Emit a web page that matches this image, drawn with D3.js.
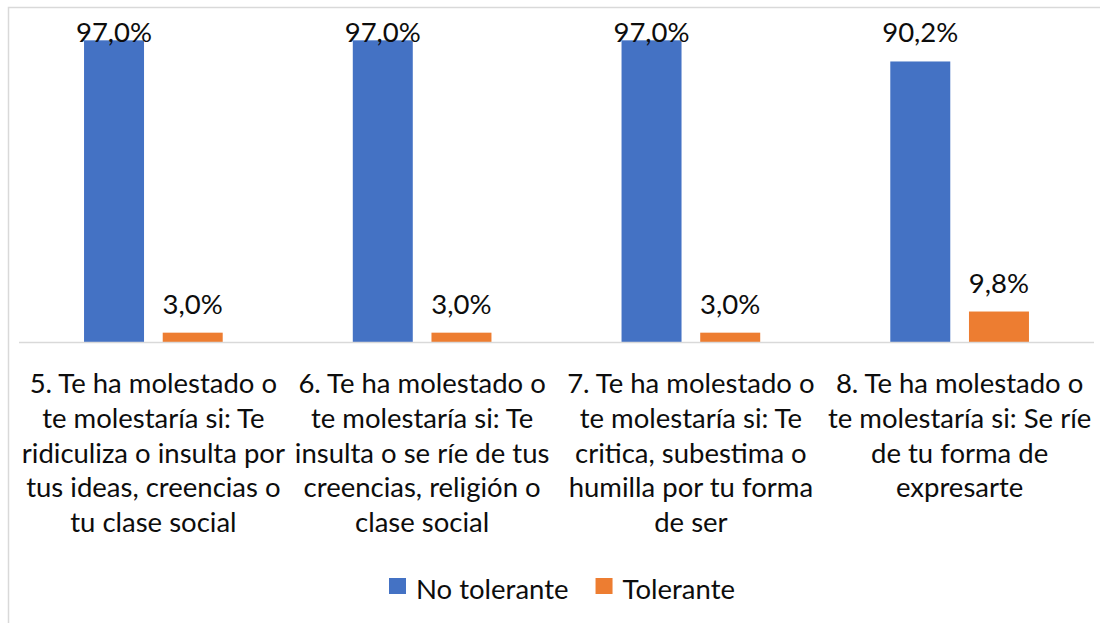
<!DOCTYPE html>
<html>
<head>
<meta charset="utf-8">
<script src="https://cdn.jsdelivr.net/npm/d3@7"></script>
<style>
  html, body { margin: 0; padding: 0; background: #fff; }
  svg { display: block; font-family: Lato, "Open Sans", sans-serif; }
</style>
</head>
<body>
<div id="chart"></div>
<script>
// Chart data
const categories = ['c5', 'c6', 'c7', 'c8'];
const categoryLines = [
    ['5. Te ha molestado o', 'te molestaría si: Te', 'ridiculiza o insulta por', 'tus ideas, creencias o', 'tu clase social'],
    ['6. Te ha molestado o', 'te molestaría si: Te', 'insulta o se ríe de tus', 'creencias, religión o', 'clase social'],
    ['7. Te ha molestado o', 'te molestaría si: Te', 'critica, subestima o', 'humilla por tu forma', 'de ser'],
    ['8. Te ha molestado o', 'te molestaría si: Se ríe', 'de tu forma de', 'expresarte']
];
const seriesNames = ['No tolerante', 'Tolerante'];
const noTolerante = [0.970, 0.970, 0.970, 0.902];
const tolerante = [0.030, 0.030, 0.030, 0.098];
const seriesColors = ['#4472C4', '#ED7D31'];

const width = 1100;
const height = 623;
const fontSize = 27.5;

// Plot area
const plot = { left: 19, right: 1094, top: 31, bottom: 342 };

const svg = d3.select('#chart')
    .append('svg')
    .attr('width', width)
    .attr('height', height);

// Chart border (light gray, cropped at right / bottom)
svg.append('path')
    .attr('d', `M8.5,${height} V7.5 H${width}`)
    .attr('fill', 'none')
    .attr('stroke', '#d9d9d9')
    .attr('stroke-width', 1.5);

const x0 = d3.scaleBand()
    .domain(categories)
    .range([plot.left, plot.right])
    .padding(0);

const bw = x0.bandwidth();
const gap = bw * 0.242;

const x1 = d3.scaleBand()
    .domain(seriesNames)
    .range([gap, bw - gap])
    .paddingInner(0.2376)
    .paddingOuter(0);

const y = d3.scaleLinear()
    .domain([0, 1])
    .range([plot.bottom, plot.top]);

const rows = categories.map((c, i) => ({
    cat: c,
    values: [
        { series: seriesNames[0], value: noTolerante[i], color: seriesColors[0] },
        { series: seriesNames[1], value: tolerante[i], color: seriesColors[1] }
    ]
}));

const fmt = v => d3.format('.1f')(v * 100).replace('.', ',') + '%';

// Bars
const groups = svg.append('g')
    .selectAll('g')
    .data(rows)
    .join('g')
    .attr('transform', d => `translate(${x0(d.cat)},0)`);

groups.selectAll('rect')
    .data(d => d.values)
    .join('rect')
    .attr('x', d => x1(d.series))
    .attr('y', d => y(d.value))
    .attr('width', x1.bandwidth())
    .attr('height', d => y(0) - y(d.value))
    .attr('fill', d => d.color);

// Value labels
groups.selectAll('text.value')
    .data(d => d.values)
    .join('text')
    .attr('class', 'value')
    .attr('x', d => x1(d.series) + x1.bandwidth() / 2)
    .attr('y', d => Math.max(y(d.value) - 19, 42))
    .attr('text-anchor', 'middle')
    .attr('font-size', fontSize)
    .attr('fill', '#0d0d0d')
    .text(d => fmt(d.value));

// Category axis line
svg.append('line')
    .attr('x1', plot.left)
    .attr('x2', plot.right)
    .attr('y1', plot.bottom + 0.5)
    .attr('y2', plot.bottom + 0.5)
    .attr('stroke', '#d9d9d9')
    .attr('stroke-width', 1.5);

// Category labels
const catLabels = svg.append('g')
    .selectAll('text')
    .data(categories)
    .join('text')
    .attr('text-anchor', 'middle')
    .attr('font-size', fontSize)
    .attr('fill', '#0d0d0d')
    .attr('x', d => x0(d) + bw / 2)
    .attr('y', 393);

catLabels.selectAll('tspan')
    .data((d, i) => categoryLines[i])
    .join('tspan')
    .attr('x', function () { return d3.select(this.parentNode).attr('x'); })
    .attr('dy', (d, i) => i === 0 ? 0 : 34.8)
    .text(d => d);

// Legend
const legend = svg.append('g')
    .attr('transform', 'translate(389,578)');

let lx = 0;
seriesNames.forEach((name, i) => {
    const item = legend.append('g').attr('transform', `translate(${lx},0)`);
    item.append('rect')
        .attr('width', 17)
        .attr('height', 16)
        .attr('fill', seriesColors[i]);
    const t = item.append('text')
        .attr('x', 27)
        .attr('y', 21)
        .attr('font-size', fontSize)
        .attr('fill', '#0d0d0d')
        .text(name);
    lx += 27 + t.node().getComputedTextLength() + 27;
});
</script>
</body>
</html>
